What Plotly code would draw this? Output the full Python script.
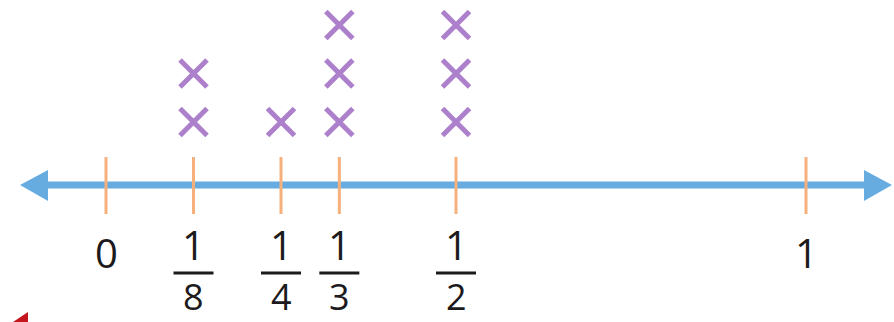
import plotly.graph_objects as go

# ---- data ----
tick_values = [0, 1/8, 1/4, 1/3, 1/2, 1]
tick_numerators = ["0", "1", "1", "1", "1", "1"]
tick_denominators = ["", "8", "4", "3", "2", ""]
plot_values = [1/8, 1/4, 1/3, 1/2]
plot_counts = [2, 1, 3, 3]

W, H = 894, 322
# pixel mapping helpers (x: data 0 -> 106px, 1 -> 806px)
X0, XS = 106, 700
def px2x(p):
    return (p - X0) / XS
def py2paper(p):
    return 1 - p / H

# y axis in "stack level" units: level 1 at 122px, step 48.5px
LY1, LS = 122, 48.5
ymin = 1 - (H - LY1) / LS
ymax = 1 + LY1 / LS

xs, ys = [], []
for v, c in zip(plot_values, plot_counts):
    for k in range(1, c + 1):
        xs.append(v)
        ys.append(k)

fig = go.Figure()
fig.add_trace(go.Scatter(
    x=xs, y=ys, mode="markers",
    marker=dict(symbol="x-thin-open", size=27,
                line=dict(width=5, color="#ad80cc"), color="#ad80cc"),
    hoverinfo="skip", showlegend=False))

shapes = []
AXIS_Y = py2paper(185)
LINE_COL = "#67ace0"
# main line
shapes.append(dict(type="line", xref="x", yref="paper",
                   x0=px2x(46), x1=px2x(867), y0=AXIS_Y, y1=AXIS_Y,
                   line=dict(color=LINE_COL, width=7)))
# arrowheads
def tri(pts):
    path = "M " + " L ".join(f"{a},{b}" for a, b in pts) + " Z"
    return path
shapes.append(dict(type="path", xref="x", yref="paper",
                   path=tri([(px2x(20), AXIS_Y), (px2x(48), py2paper(170)), (px2x(48), py2paper(201))]),
                   fillcolor=LINE_COL, line=dict(width=0)))
shapes.append(dict(type="path", xref="x", yref="paper",
                   path=tri([(px2x(892), AXIS_Y), (px2x(864), py2paper(170)), (px2x(864), py2paper(201))]),
                   fillcolor=LINE_COL, line=dict(width=0)))
# tick marks
for v in tick_values:
    shapes.append(dict(type="line", xref="x", yref="paper",
                       x0=v, x1=v, y0=py2paper(157), y1=py2paper(214),
                       line=dict(color="#f5b07c", width=3)))

annotations = []
FONT = dict(family="Open Sans, DejaVu Sans, sans-serif", size=40, color="#1c1a1c")
DFONT = dict(family="Open Sans, DejaVu Sans, sans-serif", size=36, color="#1c1a1c")
for v, n, d in zip(tick_values, tick_numerators, tick_denominators):
    if d:
        annotations.append(dict(x=v, y=py2paper(272.5), xref="x", yref="paper",
                                text=n, showarrow=False, font=FONT, borderpad=0,
                                xanchor="center", yanchor="bottom"))
        annotations.append(dict(x=v, y=0, xref="x", yref="paper",
                                text=d, showarrow=False, font=DFONT, borderpad=0,
                                xanchor="center", yanchor="bottom"))
        shapes.append(dict(type="line", xref="x", yref="paper",
                           x0=v - 20 / XS, x1=v + 20 / XS,
                           y0=py2paper(273), y1=py2paper(273),
                           line=dict(color="#1c1a1c", width=3)))
    else:
        annotations.append(dict(x=v, y=py2paper(252), xref="x", yref="paper",
                                text=n, showarrow=False, font=FONT,
                                xanchor="center", yanchor="middle"))

# small red fragment at bottom-left corner
shapes.append(dict(type="path", xref="paper", yref="paper",
                   path=f"M {13/W},{0} L {28/W},{py2paper(312)} L {28/W},{0} Z",
                   fillcolor="#c4161c", line=dict(width=0)))

fig.update_layout(
    width=W, height=H,
    margin=dict(l=0, r=0, t=0, b=0),
    paper_bgcolor="white", plot_bgcolor="white",
    xaxis=dict(range=[px2x(0), px2x(W)], visible=False, fixedrange=True),
    yaxis=dict(range=[ymin, ymax], visible=False, fixedrange=True),
    shapes=shapes, annotations=annotations,
    showlegend=False,
)
fig.write_html("out.html", config={"displayModeBar": False},
               post_script="document.body.style.margin='0';document.body.style.overflow='hidden';")
